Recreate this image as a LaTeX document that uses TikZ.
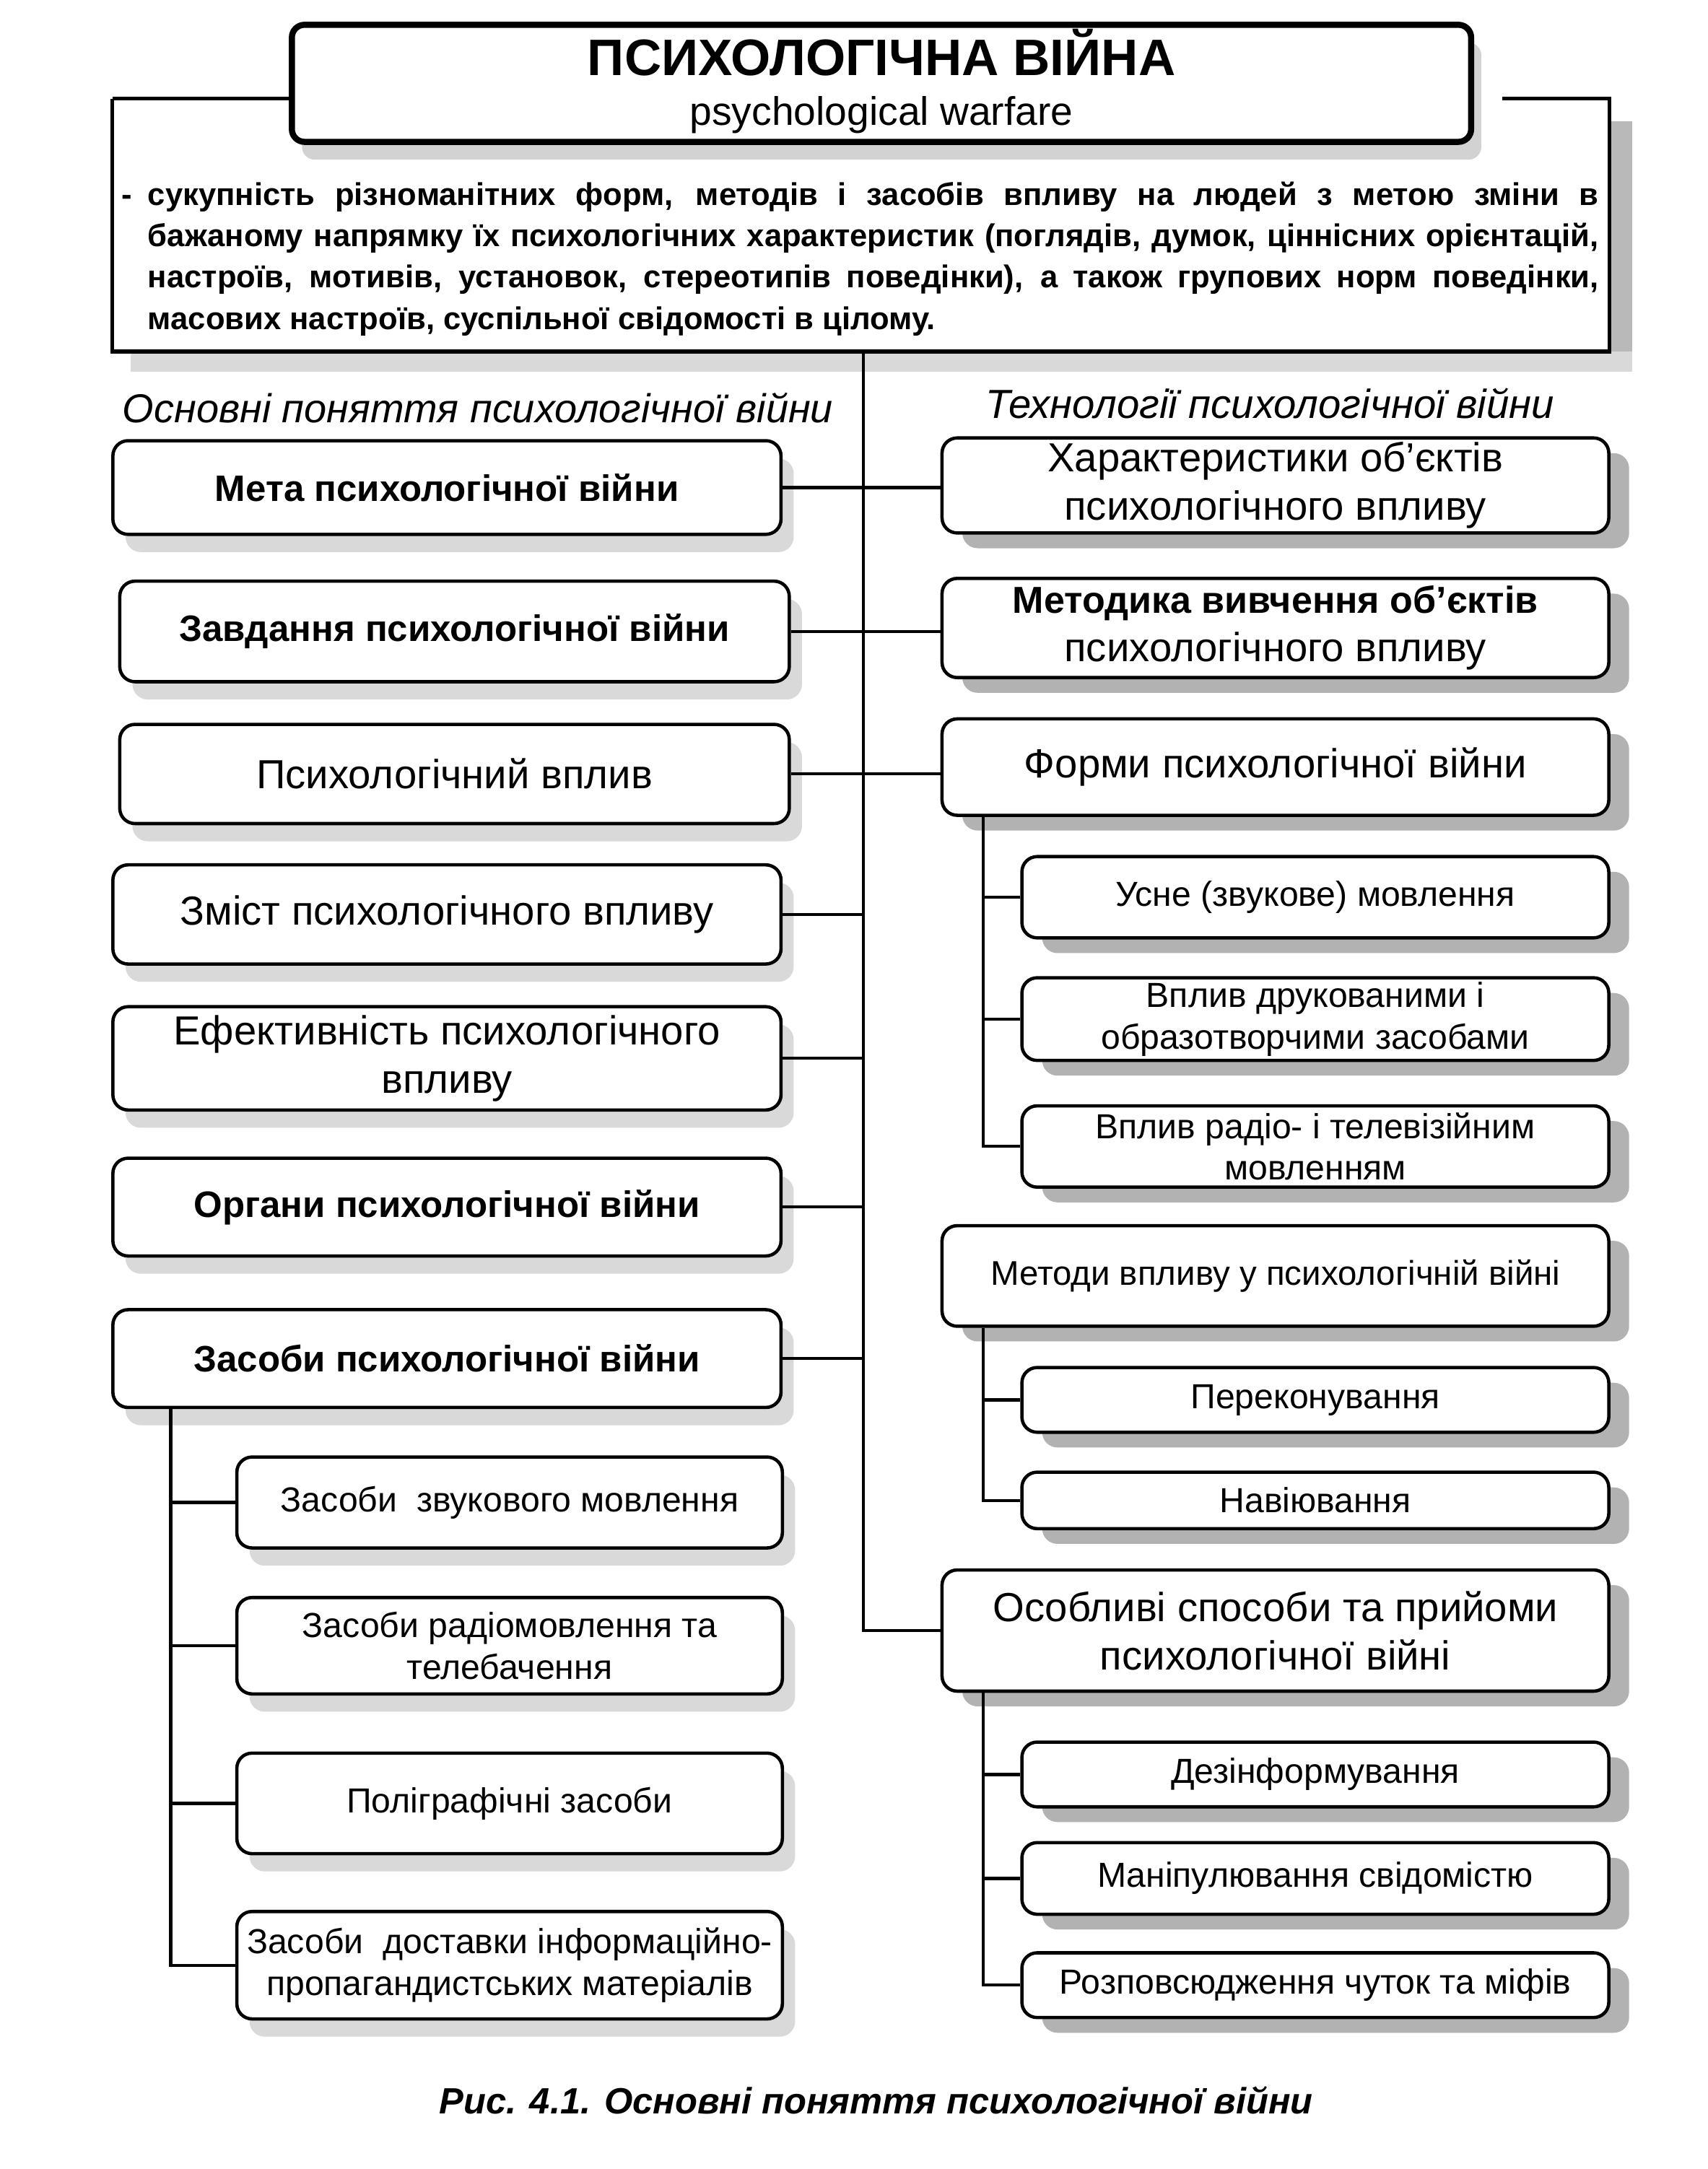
\documentclass[tikz,border=0pt]{standalone}
\usepackage{fontspec}
\setmainfont{Liberation Sans}
\usetikzlibrary{shadows}
\def\dpx{0.5428pt}
\begin{document}
\begin{tikzpicture}[x=0.01908cm,y=-0.01908cm,
  box/.style={draw, line width=1.3pt, rounded corners=6pt, fill=white, align=center, inner sep=0pt},
  lsh/.style={drop shadow={shadow xshift=5pt, shadow yshift=-7pt, fill=gray!30, opacity=1}},
  rsh/.style={drop shadow={shadow xshift=8pt, shadow yshift=-6pt, fill=gray!60, opacity=1}},
  mainf/.style={font=\fontsize{16}{19}\selectfont},
  boldf/.style={font=\fontsize{14.5}{19}\selectfont\bfseries},
  subf/.style={font=\fontsize{13.7}{16.3}\selectfont},
  deff/.style={font=\fontsize{12.4}{16}\selectfont\bfseries, inner sep=0pt},
  conn/.style={line width=1.2pt},
  lbox/.style={box, lsh, mainf, minimum width=485*\dpx},
  sbox/.style={box, lsh, subf, minimum width=396*\dpx},
  rbox/.style={box, rsh, mainf, minimum width=484*\dpx},
  rsbox/.style={box, rsh, subf, minimum width=426*\dpx}
]
\useasboundingbox (0,0) rectangle (1240,1575);
\fill[white] (0,0) rectangle (1240,1575);

% definition box
\node[minimum width=1086*\dpx, minimum height=183*\dpx, inner sep=0pt] (def) at (625,163.5) {};
\fill[gray!55] (1168,88) rectangle (1185,270);
\fill[gray!30] (95,255) rectangle (1185,270);
\draw[line width=1.6pt] (def.north west) -- (def.south west) -- (def.south east) -- (def.north east) -- ++(-78,0);
\draw[line width=1.6pt] (def.north west) -- ++(140,0);

% title
\node[draw, line width=2.4pt, rounded corners=5pt, fill=white, minimum width=856*\dpx, minimum height=85*\dpx, inner sep=0pt,
      drop shadow={shadow xshift=4pt, shadow yshift=-7pt, fill=gray!35, opacity=1}] (title) at (640,60.5) {};
\node[font=\fontsize{20.2}{24}\selectfont\bfseries, anchor=base] (t1) at (640,55) {ПСИХОЛОГІЧНА ВІЙНА};
\node[font=\fontsize{15.7}{18}\selectfont, anchor=base] (t2) at (640,91) {psychological warfare};

% definition text
\node[deff, anchor=base west] (d0) at (88,149) {-};
\node[deff, anchor=base west] (d1) at (107,149) {\makebox[571.6pt][s]{сукупність різноманітних форм, методів і засобів впливу на людей з метою зміни в}};
\node[deff, anchor=base west] (d2) at (107,179) {\makebox[571.6pt][s]{бажаному напрямку їх психологічних характеристик (поглядів, думок, ціннісних орієнтацій,}};
\node[deff, anchor=base west] (d3) at (107,209) {\makebox[571.6pt][s]{настроїв, мотивів, установок, стереотипів поведінки), а також групових норм поведінки,}};
\node[deff, anchor=base west] (d4) at (107,239) {масових настроїв, суспільної свідомості в цілому.};

% headers
\node[font=\fontsize{15.9}{18}\selectfont\itshape] (hl) at (347,296) {Основні поняття психологічної війни};
\node[font=\fontsize{16}{18}\selectfont\itshape] (hr) at (922,293) {Технології психологічної війни};

% left column
\node[lbox, boldf, minimum height=68*\dpx] (L1) at (324.5,354) {Мета психологічної війни};
\node[lbox, boldf, minimum width=486*\dpx, minimum height=73*\dpx] (L2) at (330,458.5) {Завдання психологічної війни};
\node[lbox, minimum width=486*\dpx, minimum height=72*\dpx] (L3) at (330,562) {Психологічний вплив};
\node[lbox, minimum height=72*\dpx] (L4) at (324.5,664) {Зміст психологічного впливу};
\node[lbox, minimum height=75*\dpx] (L5) at (324.5,768.5) {Ефективність психологічного\\впливу};
\node[lbox, boldf, minimum height=71*\dpx] (L6) at (324.5,876.5) {Органи психологічної війни};
\node[lbox, boldf, minimum height=71*\dpx] (L7) at (324.5,986.5) {Засоби психологічної війни};

\node[sbox, minimum height=66*\dpx] (S1) at (370,1091) {Засоби\ \ звукового мовлення};
\node[sbox, minimum height=70*\dpx] (S2) at (370,1195) {Засоби радіомовлення та\\телебачення};
\node[sbox, minimum height=73*\dpx] (S3) at (370,1309.5) {Поліграфічні засоби};
\node[sbox, minimum height=78*\dpx] (S4) at (370,1427) {Засоби\ \ доставки інформаційно-\\пропагандистських матеріалів};

% right column
\node[rbox, minimum height=69*\dpx] (R1) at (926,352.5) {Характеристики об’єктів\\психологічного впливу};
\node[rbox, minimum height=72*\dpx] (R2) at (926,456) {\fontsize{14.8}{19}\selectfont\bfseries Методика вивчення об’єктів\\психологічного впливу};
\node[rbox, minimum height=70*\dpx] (R3) at (926,557) {Форми психологічної війни};
\node[rsbox, minimum height=59*\dpx] (A1) at (955,651.5) {Усне (звукове) мовлення};
\node[rsbox, minimum height=60*\dpx] (A2) at (955,740) {Вплив друкованими і\\образотворчими засобами};
\node[rsbox, minimum height=59*\dpx] (A3) at (955,832.5) {Вплив радіо- і телевізійним\\мовленням};
\node[rbox, minimum height=73*\dpx, font=\fontsize{13.5}{17}\selectfont] (R4) at (926,926.5) {Методи впливу у психологічній війні};
\node[rsbox, minimum height=47*\dpx] (B1) at (955,1016.5) {Переконування};
\node[rsbox, minimum height=41*\dpx] (B2) at (955,1089.5) {Навіювання};
\node[rbox, minimum height=88*\dpx] (R5) at (926,1184) {Особливі способи та прийоми\\психологічної війні};
\node[rsbox, minimum height=47*\dpx] (C1) at (955,1288.5) {Дезінформування};
\node[rsbox, minimum height=52*\dpx] (C2) at (955,1364) {Маніпулювання свідомістю};
\node[rsbox, minimum height=47*\dpx] (C3) at (955,1441.5) {Розповсюдження чуток та міфів};

% caption
\node[font=\fontsize{14.4}{17}\selectfont\bfseries\itshape] (cap) at (636,1525) {Рис. 4.1. Основні поняття психологічної війни};

% connectors
\coordinate (tx) at (627,0);
\coordinate (lx) at (124,0);
\coordinate (rx) at (714,0);
\draw[conn] (def.south -| tx) |- (R5.west);
\draw[conn] (L1.east) -- (L1.east -| R1.west);
\draw[conn] (L2.east) -- (L2.east -| R2.west);
\draw[conn] (L3.east) -- (L3.east -| R3.west);
\foreach \n in {L4,L5,L6,L7} \draw[conn] (\n.east) -- (\n.east -| tx);
\draw[conn] (L7.south -| lx) |- (S4.west);
\foreach \n in {S1,S2,S3} \draw[conn] (\n.west) -- (\n.west -| lx);
\draw[conn] (R3.south -| rx) |- (A3.west);
\foreach \n in {A1,A2} \draw[conn] (\n.west) -- (\n.west -| rx);
\draw[conn] (R4.south -| rx) |- (B2.west);
\draw[conn] (B1.west) -- (B1.west -| rx);
\draw[conn] (R5.south -| rx) |- (C3.west);
\foreach \n in {C1,C2} \draw[conn] (\n.west) -- (\n.west -| rx);
\end{tikzpicture}
\end{document}
